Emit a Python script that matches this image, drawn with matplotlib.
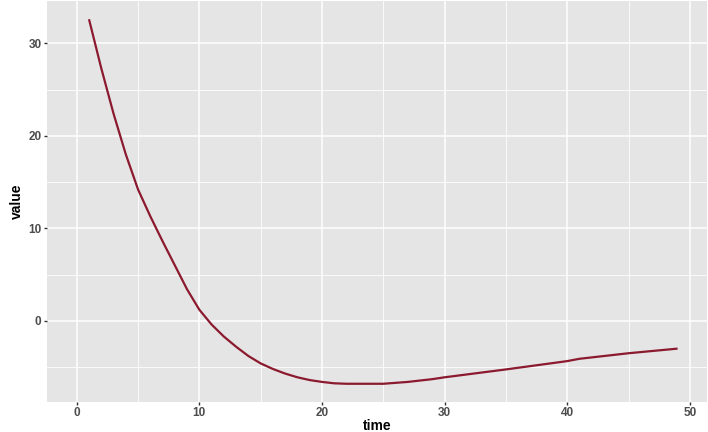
import numpy as np
import matplotlib
matplotlib.use("Agg")
import matplotlib.pyplot as plt
from matplotlib.ticker import MultipleLocator

# values
time = [1, 2, 3, 4, 5, 6, 7, 8, 9, 10, 11, 12, 13, 14, 15, 16, 17, 18, 19, 20,
        21, 22, 23, 24, 25, 26, 27, 28, 29, 30, 35, 40, 41, 45, 49]
value = [32.6, 27.3, 22.4, 18.0, 14.2, 11.3, 8.6, 6.0, 3.4, 1.2, -0.4, -1.7, -2.8,
         -3.8, -4.6, -5.2, -5.7, -6.1, -6.4, -6.6, -6.75, -6.8, -6.8, -6.8, -6.8,
         -6.7, -6.6, -6.45, -6.3, -6.1, -5.25, -4.35, -4.1, -3.5, -3.0]

x_ticks = [0, 10, 20, 30, 40, 50]
y_ticks = [0, 10, 20, 30]

plt.rcParams["font.family"] = ["Liberation Sans", "DejaVu Sans"]

fig = plt.figure(figsize=(7.08, 4.32), dpi=100)
ax = fig.add_axes([46.7 / 708, 1 - 402 / 432, (707 - 46.7) / 708, (402 - 1) / 432])
ax.set_facecolor("#E5E5E5")

ax.plot(time, value, color="#8B1A2E", lw=1.6, solid_capstyle="butt",
        solid_joinstyle="round", zorder=3)

ax.set_xlim(-2.45, 51.4)
ax.set_ylim(-8.77, 34.57)
ax.set_xticks(x_ticks)
ax.set_yticks(y_ticks)
ax.xaxis.set_minor_locator(MultipleLocator(5))
ax.yaxis.set_minor_locator(MultipleLocator(5))
ax.grid(which="major", color="white", lw=1.1)
ax.grid(which="minor", color="white", lw=0.6)
ax.set_axisbelow(True)
for s in ax.spines.values():
    s.set_visible(False)

ax.tick_params(which="major", length=2.2, width=1, color="#333333",
               labelsize=8.5, labelcolor="#4D4D4D", pad=1.5)
ax.tick_params(which="minor", length=0)
for lbl in ax.get_xticklabels() + ax.get_yticklabels():
    lbl.set_fontweight("bold")

ax.set_xlabel("time", fontsize=10, fontweight="bold", labelpad=0)
ax.set_ylabel("value", fontsize=10, fontweight="bold", labelpad=3)

fig.savefig("out.png", dpi=100)
